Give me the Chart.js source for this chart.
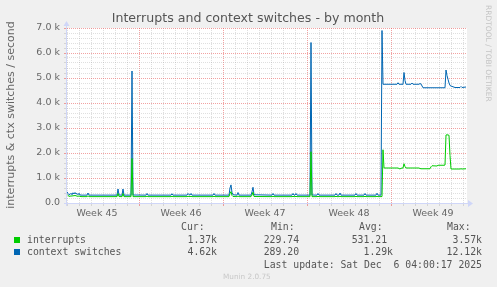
<!DOCTYPE html>
<html>
<head>
<meta charset="utf-8">
<script src="https://cdn.jsdelivr.net/npm/chart.js@4.4.0/dist/chart.umd.min.js"></script>
<style>
  html, body { margin: 0; padding: 0; background: #f0f0f0; }
  #wrap { width: 497px; height: 287px; }
</style>
</head>
<body>
<div id="wrap"><canvas id="chart1" width="497" height="287"></canvas></div>
<script>
// hours since the left edge of the graph (rrd step = 2 h)
const hours = [
  0, 2, 4, 6, 8, 10, 12, 14, 16, 18, 20, 22, 24, 26, 30, 40, 42, 44,
  100, 102, 104, 110, 112, 114, 128, 130, 132, 158, 160, 162,
  208, 210, 212, 240, 242, 244, 246, 248, 250, 292, 294, 296,
  324, 326, 328, 330, 332, 340, 342, 344, 368, 370, 372, 374,
  410, 412, 414, 450, 452, 454, 456, 458, 460, 486, 488, 490,
  500, 502, 504, 536, 538, 540, 544, 546, 548, 576, 578, 580,
  594, 596, 598, 618, 620, 622, 628, 630, 632, 634,
  660, 662, 664, 666, 668, 672, 674, 676, 678, 688, 690, 692,
  704, 706, 708, 712, 726, 728, 730, 740, 742, 754, 756,
  758, 760, 762, 764, 766, 768, 776, 786, 788, 790, 798
];

const interrupts = [
  340, 300, 270, 265, 290, 270, 300, 280, 310, 280, 285, 260, 290, 262, 255, 255, 290, 255,
  255, 380, 258, 255, 380, 255, 255, 1780, 255, 255, 275, 255,
  255, 270, 255, 255, 270, 260, 255, 270, 255, 255, 270, 255,
  255, 380, 455, 300, 260, 255, 280, 255, 255, 320, 430, 260,
  255, 270, 255, 255, 265, 255, 255, 265, 255, 255, 2050, 255,
  255, 265, 255, 255, 265, 255, 255, 270, 255, 255, 265, 255,
  255, 265, 255, 255, 270, 255, 255, 260, 2130, 1400,
  1400, 1400, 1380, 1360, 1390, 1400, 1570, 1460, 1400, 1400, 1400, 1400,
  1400, 1380, 1370, 1370, 1370, 1450, 1490, 1480, 1510, 1510, 1520,
  2720, 2730, 2720, 2710, 1900, 1360, 1360, 1360, 1370, 1360, 1370
];

const ctxSwitches = [
  450, 380, 330, 340, 390, 330, 410, 360, 420, 360, 380, 330, 390, 320, 315, 315, 400, 315,
  315, 560, 320, 315, 560, 315, 315, 5280, 320, 315, 380, 315,
  315, 370, 315, 315, 380, 330, 320, 380, 315, 315, 380, 315,
  315, 600, 725, 420, 330, 315, 420, 315, 315, 450, 630, 330,
  315, 380, 315, 315, 380, 315, 315, 380, 315, 315, 6420, 320,
  315, 380, 315, 315, 380, 315, 315, 400, 315, 315, 380, 315,
  315, 380, 315, 315, 390, 315, 315, 6900, 4750, 4750,
  4750, 4810, 4750, 4750, 4750, 4750, 5220, 4900, 4750, 4750, 4800, 4750,
  4750, 4780, 4760, 4610, 4610, 4610, 4610, 4610, 4610, 4610, 4610,
  5320, 5100, 4950, 4800, 4700, 4680, 4620, 4620, 4660, 4620, 4640
];

const weekLabels = ['Week 45', 'Week 46', 'Week 47', 'Week 48', 'Week 49'];
const weekCenters = [60, 228, 396, 564, 732];

// legenda (tabela do munin)
const seriesNames = ['interrupts', 'context switches'];
const seriesColors = ['#00cc00', '#0066b3'];
const curValues = ['1.37k', '4.62k'];
const minValues = ['229.74 ', '289.20 '];
const avgValues = ['531.21 ', '1.29k'];
const maxValues = ['3.57k', '12.12k'];
const lastUpdate = 'Last update: Sat Dec  6 04:00:17 2025';

const RED = 'rgba(230, 70, 70, 0.5)';
const GREY = 'rgba(150, 150, 150, 0.3)';
const AXIS = '#cfd6f8';
const FONT = '#666666';

const muninPlugin = {
    id: 'munin',
    beforeDraw(chart) {
        const { ctx, chartArea: a } = chart;
        ctx.save();
        ctx.fillStyle = '#f0f0f0';
        ctx.fillRect(0, 0, chart.width, chart.height);
        ctx.fillStyle = '#ffffff';
        ctx.fillRect(a.left, a.top, a.right - a.left, a.bottom - a.top);
        ctx.restore();
    },
    afterDraw(chart) {
        const { ctx, chartArea: a } = chart;
        ctx.save();

        // eixos com setas
        ctx.strokeStyle = AXIS;
        ctx.fillStyle = AXIS;
        ctx.lineWidth = 1;
        ctx.beginPath();
        ctx.moveTo(a.left - 3, a.bottom + 0.5);
        ctx.lineTo(a.right + 2, a.bottom + 0.5);
        ctx.moveTo(a.left - 0.5, a.bottom + 3);
        ctx.lineTo(a.left - 0.5, a.top - 4);
        ctx.stroke();
        ctx.beginPath();
        ctx.moveTo(a.right + 1, a.bottom - 3);
        ctx.lineTo(a.right + 6, a.bottom + 0.5);
        ctx.lineTo(a.right + 1, a.bottom + 4);
        ctx.closePath();
        ctx.fill();
        ctx.beginPath();
        ctx.moveTo(a.left - 3.5, a.top - 2);
        ctx.lineTo(a.left - 0.5, a.top - 7);
        ctx.lineTo(a.left + 2.5, a.top - 2);
        ctx.closePath();
        ctx.fill();

        // titulo
        ctx.fillStyle = '#555555';
        ctx.font = '12.6px "DejaVu Sans"';
        ctx.textAlign = 'center';
        ctx.textBaseline = 'middle';
        ctx.fillText('Interrupts and context switches - by month', 248, 18.5);

        // label vertical
        ctx.save();
        ctx.translate(11, 115);
        ctx.rotate(-Math.PI / 2);
        ctx.font = '11px "DejaVu Sans"';
        ctx.fillStyle = FONT;
        ctx.fillText('interrupts & ctx switches / second', 0, 0);
        ctx.restore();

        // marca d'agua do rrdtool
        ctx.save();
        ctx.translate(488, 5);
        ctx.rotate(Math.PI / 2);
        ctx.textAlign = 'left';
        ctx.font = '7.5px "DejaVu Sans"';
        ctx.fillStyle = '#c4c4c4';
        ctx.fillText('RRDTOOL / TOBI OETIKER', 0, 0);
        ctx.restore();

        // legenda
        ctx.font = '9.8px "DejaVu Sans Mono"';
        ctx.fillStyle = '#555555';
        ctx.textAlign = 'left';
        ctx.fillText('Cur:', 181, 227);
        ctx.fillText('Min:', 271, 227);
        ctx.fillText('Avg:', 359, 227);
        ctx.fillText('Max:', 447, 227);
        const rows = [240, 252];
        seriesNames.forEach((nome, i) => {
            const y = rows[i];
            ctx.fillStyle = seriesColors[i];
            ctx.fillRect(14, y - 3, 6, 6);
            ctx.fillStyle = '#555555';
            ctx.textAlign = 'left';
            ctx.fillText(nome, 27, y);
            ctx.textAlign = 'right';
            ctx.fillText(curValues[i], 217, y);
            ctx.fillText(minValues[i], 305, y);
            ctx.fillText(avgValues[i], 393, y);
            ctx.fillText(maxValues[i], 482, y);
        });
        ctx.textAlign = 'right';
        ctx.fillText(lastUpdate, 482, 265);

        ctx.textAlign = 'left';
        ctx.font = '7.3px "DejaVu Sans"';
        ctx.fillStyle = '#c8c8c8';
        ctx.fillText('Munin 2.0.75', 223, 277);
        ctx.restore();
    }
};

document.addEventListener('DOMContentLoaded', () => {
    const ctx1 = document.getElementById('chart1').getContext('2d');

    new Chart(ctx1, {
        type: 'line',
        data: {
            labels: hours,
            datasets: [
                { label: seriesNames[0], data: interrupts, borderColor: seriesColors[0] },
                { label: seriesNames[1], data: ctxSwitches, borderColor: seriesColors[1] }
            ]
        },
        plugins: [muninPlugin],
        options: {
            responsive: false,
            animation: false,
            layout: { padding: { top: 28, right: 30, bottom: 0, left: 0 } },
            elements: {
                line: { borderWidth: 1, tension: 0, fill: false },
                point: { radius: 0, hoverRadius: 0 }
            },
            plugins: { legend: { display: false }, tooltip: { enabled: false } },
            scales: {
                x: {
                    type: 'linear',
                    min: 0,
                    max: 800,
                    afterBuildTicks: (scale) => {
                        const t = [];
                        for (let h = 0; h <= 792; h += 12) t.push({ value: h });
                        scale.ticks = t;
                    },
                    afterFit: (scale) => { scale.height = 84; },
                    grid: {
                        color: (c) => {
                            const v = c.tick.value;
                            if (v % 24 !== 0) return 'transparent';
                            return (v - 144) % 168 === 0 ? RED : GREY;
                        },
                        tickLength: 3
                    },
                    border: { display: false, dash: [1, 1] },
                    ticks: {
                        autoSkip: false,
                        minRotation: 0,
                        maxRotation: 0,
                        padding: 2,
                        color: FONT,
                        font: { family: 'DejaVu Sans', size: 9.5 },
                        callback: (v) => {
                            const i = weekCenters.indexOf(v);
                            return i >= 0 ? weekLabels[i] : '';
                        }
                    }
                },
                y: {
                    min: 0,
                    max: 7000,
                    afterBuildTicks: (scale) => {
                        const t = [];
                        for (let v = 0; v <= 7000; v += 200) t.push({ value: v });
                        scale.ticks = t;
                    },
                    afterFit: (scale) => { scale.width = 67; },
                    grid: {
                        color: (c) => (c.tick.value % 1000 === 0 ? RED : GREY),
                        tickLength: 3
                    },
                    border: { display: false, dash: [1, 1] },
                    ticks: {
                        autoSkip: false,
                        padding: 4,
                        color: FONT,
                        font: { family: 'DejaVu Sans', size: 9.5 },
                        callback: (v) => {
                            if (v % 1000 !== 0) return '';
                            return v === 0 ? '0.0' : (v / 1000).toFixed(1) + ' k';
                        }
                    }
                }
            }
        }
    });
});
</script>
</body>
</html>
